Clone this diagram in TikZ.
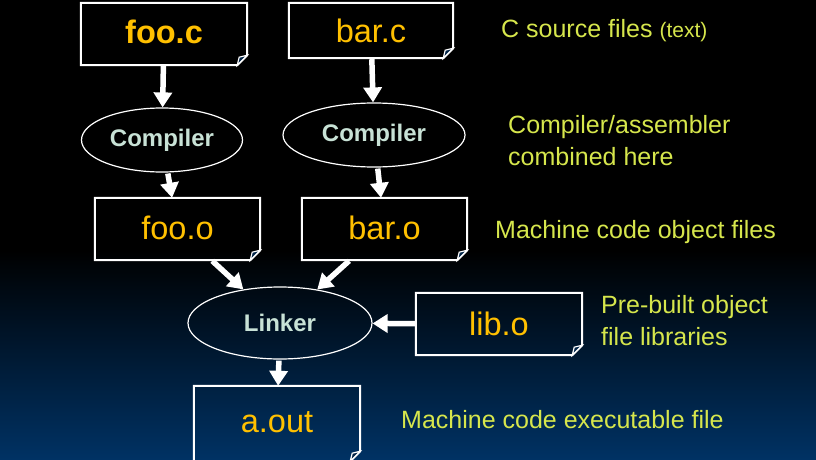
\documentclass[tikz,border=0pt]{standalone}
\usepackage{fontspec}
\setmainfont{Liberation Sans}
\usetikzlibrary{shapes.geometric,arrows.meta}
\definecolor{fileorange}{RGB}{255,192,0}
\definecolor{labelgreen}{RGB}{214,230,76}
\definecolor{proctext}{RGB}{200,226,214}
\definecolor{navybg}{RGB}{0,50,100}
\tikzset{
  filebox/.style={minimum width=#1, inner sep=0pt, text=fileorange,
    font=\fontsize{32.5}{38}\selectfont},
  proc/.style={ellipse, draw=white, line width=1.2pt, inner sep=0pt,
    text=proctext, font=\fontsize{24}{28}\selectfont\bfseries},
  note/.style={text=labelgreen, font=\fontsize{25}{30}\selectfont,
    anchor=west, inner sep=0pt, align=left},
  flow/.style={draw=white, line width=5.5pt, -{Triangle[width=18pt,length=15pt]},
    shorten <=1pt, shorten >=0pt},
  outline/.style={draw=white, line width=2pt, line join=miter},
  foldtri/.style={draw=white, line width=1.2pt, fill=black!30!navybg}
}
\newcommand\docoutline[1]{%
  \draw[outline] (#1.north west) -- (#1.north east) -- ([yshift=10pt]#1.south east)
    -- ([xshift=-10pt]#1.south east) -- (#1.south west) -- cycle;
  \draw[foldtri] ([xshift=-10pt]#1.south east) -- ([yshift=10pt]#1.south east)
    -- ([xshift=-8pt,yshift=8pt]#1.south east) -- cycle;}
\begin{document}
\begin{tikzpicture}[x=1pt,y=-1pt]
\useasboundingbox (0,0) rectangle (816,460);
\clip (0,0) rectangle (816,460);
\fill[black] (0,0) rectangle (816,251);
\shade[top color=black, bottom color=navybg] (0,250) rectangle (816,460);
% file boxes
\node[filebox=166pt, minimum height=62pt] (fooc) at (164,34) {\raisebox{4pt}{\bfseries foo.c}};
\node[filebox=164pt, minimum height=55pt] (barc) at (371,30.5) {\raisebox{-1.5pt}{bar.c}};
\node[filebox=165pt, minimum height=62pt] (fooo) at (177.5,229) {\raisebox{3pt}{foo.o}};
\node[filebox=165pt, minimum height=62pt] (baro) at (384.5,229) {\raisebox{3pt}{bar.o}};
\node[filebox=166pt, minimum height=62pt] (libo) at (499,324) {\raisebox{-4pt}{lib.o}};
\node[filebox=166pt, minimum height=75pt] (aout) at (277,423.5) {\raisebox{4pt}{a.out}};
\foreach \n in {fooc,barc,fooo,baro,libo,aout} {\docoutline{\n}}
% processes
\node[proc, minimum width=161pt, minimum height=64pt] (comp1) at (162,140) {Compiler};
\node[proc, minimum width=182pt, minimum height=64pt] (comp2) at (374,135) {Compiler};
\node[proc, minimum width=184pt, minimum height=72pt] (link) at (280,323) {Linker};
% connectors
\draw[flow] (fooc) -- (comp1);
\draw[flow] (barc) -- (comp2);
\draw[flow] (comp1) -- (fooo);
\draw[flow] (comp2) -- (baro);
\draw[flow] (fooo) -- (link);
\draw[flow] (baro) -- (link);
\draw[flow] (libo) -- (link);
\draw[flow] (link) -- (aout);
% notes
\node[note] (n1) at (501,31) {C source files {\fontsize{21}{24}\selectfont(text)}};
\node[note] (n2) at (508,141) {Compiler/assembler\\[2pt]combined here};
\node[note] (n3) at (495,232) {Machine code object files};
\node[note] (n4) at (601,321) {Pre-built object\\[2pt]file libraries};
\node[note] (n5) at (401,420) {Machine code executable file};
\end{tikzpicture}
\end{document}
